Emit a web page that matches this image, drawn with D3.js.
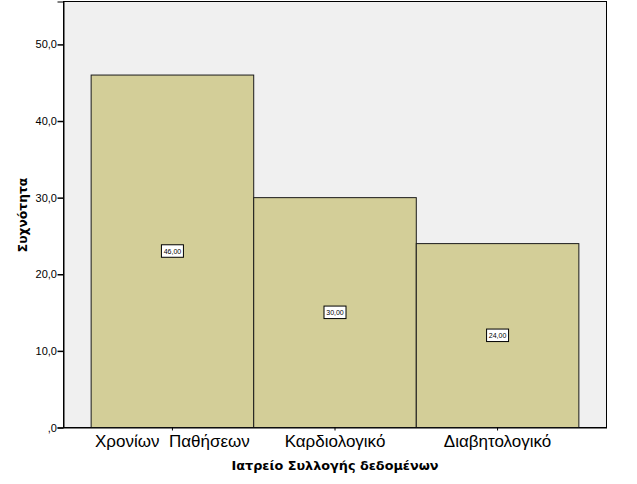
<!DOCTYPE html>
<html>
<head>
<meta charset="utf-8">
<script src="https://cdn.jsdelivr.net/npm/d3@7"></script>
<style>
body{margin:0;background:#fff;}
svg{display:block;}
</style>
</head>
<body>
<script>
const categories = ["Χρονίων  Παθήσεων", "Καρδιολογικό", "Διαβητολογικό"];
const values = [46, 30, 24];
const valueLabels = ["46,00", "30,00", "24,00"];
const yTicks = [0, 10, 20, 30, 40, 50];
const yTickLabels = [",0", "10,0", "20,0", "30,0", "40,0", "50,0"];
const yTitle = "Συχνότητα";
const xTitle = "Ιατρείο Συλλογής δεδομένων";

const W = 637, H = 484;
const m = {left: 63.5, top: 1.5, right: 606.5, bottom: 427.5};

const svg = d3.select("body").append("svg").attr("width", W).attr("height", H);

const x = d3.scaleBand().domain(categories).range([m.left, m.right]).paddingInner(0).paddingOuter(0.17);
const y = d3.scaleLinear().domain([0, 55.6]).range([m.bottom, m.top]);

svg.append("rect").attr("x", m.left).attr("y", m.top).attr("width", m.right - m.left).attr("height", m.bottom - m.top)
  .attr("fill", "#f0f0f0").attr("stroke", "#000").attr("stroke-width", 1);

svg.selectAll("rect.bar").data(values).enter().append("rect").attr("class", "bar")
  .attr("x", (d, i) => x(categories[i]))
  .attr("y", d => y(d))
  .attr("width", x.bandwidth())
  .attr("height", d => y(0) - y(d))
  .attr("fill", "#d3ce98").attr("stroke", "#1a1a1a").attr("stroke-width", 1);

// y axis
const yAxis = d3.axisLeft(y).tickValues(yTicks).tickSize(6).tickFormat((d, i) => yTickLabels[i]);
const gy = svg.append("g").attr("transform", `translate(${m.left},0)`).call(yAxis);
gy.select(".domain").attr("stroke", "#000");
gy.selectAll(".tick line").attr("stroke", "#000").attr("stroke-width", 1.5);
gy.selectAll(".tick text").attr("font-family", "Liberation Sans, Arial, sans-serif").attr("font-size", 11).attr("fill", "#000").attr("x", -6.5);

// x axis
const xAxis = d3.axisBottom(x).tickSize(3).tickSizeOuter(0);
const gx = svg.append("g").attr("transform", `translate(0,${m.bottom})`).call(xAxis);
gx.select(".domain").attr("stroke", "#000");
gx.selectAll(".tick line").attr("stroke", "#000");
gx.selectAll(".tick text").attr("font-family", "Liberation Sans, Arial, sans-serif").attr("font-size", 17).attr("fill", "#000")
  .attr("y", 7).attr("dy", "0.71em").style("white-space", "pre");

// value labels
const lab = svg.selectAll("g.vl").data(values).enter().append("g").attr("class", "vl")
  .attr("transform", (d, i) => `translate(${x(categories[i]) + x.bandwidth() / 2},${y(d / 2)})`);
lab.append("rect").attr("x", -11).attr("y", -6.5).attr("width", 22).attr("height", 12.5)
  .attr("fill", "#fff").attr("stroke", "#000").attr("stroke-width", 1);
lab.append("text").text((d, i) => valueLabels[i]).attr("text-anchor", "middle").attr("dy", "0.35em")
  .attr("font-family", "Liberation Sans, Arial, sans-serif").attr("font-size", 7).attr("fill", "#000");

// titles
svg.append("text").text(yTitle).attr("transform", `translate(27,215) rotate(-90)`).attr("text-anchor", "middle")
  .attr("font-family", "DejaVu Sans, sans-serif").attr("font-weight", "bold").attr("font-size", 12.3).attr("fill", "#000");
svg.append("text").text(xTitle).attr("x", 335).attr("y", 470).attr("text-anchor", "middle")
  .attr("font-family", "DejaVu Sans, sans-serif").attr("font-weight", "bold").attr("font-size", 12.8).attr("fill", "#000");
</script>
</body>
</html>
